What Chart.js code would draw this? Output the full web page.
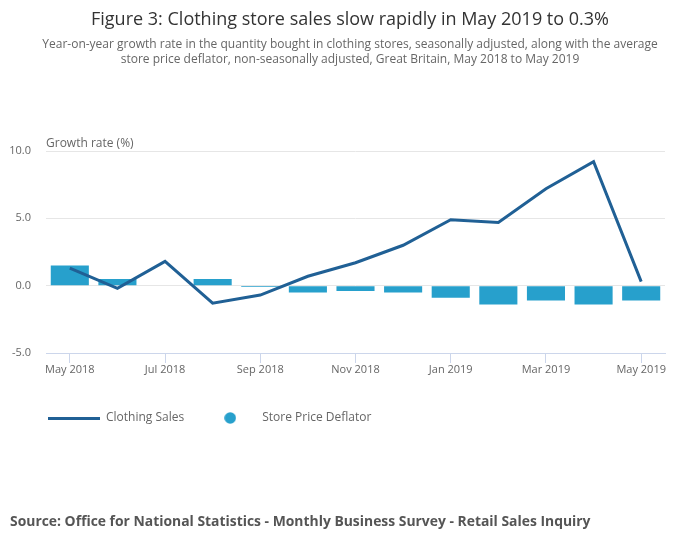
<!DOCTYPE html>
<html>
<head>
<meta charset="utf-8">
<script src="https://cdn.jsdelivr.net/npm/chart.js@4.4.1/dist/chart.umd.min.js"></script>
<style>
  body { margin: 0; background: #fff; font-family: 'Open Sans', sans-serif; }
  #wrap { position: relative; width: 700px; height: 549px; overflow: hidden; }
  #chart { position: absolute; left: 0; top: 0; }
  .title { position: absolute; left: 0; width: 700px; text-align: center; top: 6px; font-size: 18px; color: #333; }
  .subtitle { position: absolute; left: 40px; width: 620px; text-align: center; top: 36px; font-size: 12px; line-height: 15px; color: #666; }
  .source { position: absolute; left: 10px; top: 511px; font-size: 13.9px; font-weight: bold; color: #555; }
</style>
</head>
<body>
<div id="wrap">
  <canvas id="chart" width="700" height="549"></canvas>
  <div class="title">Figure 3: Clothing store sales slow rapidly in May 2019 to 0.3%</div>
  <div class="subtitle">Year-on-year growth rate in the quantity bought in clothing stores, seasonally adjusted, along with the average store price deflator, non-seasonally adjusted, Great Britain, May 2018 to May 2019</div>
  <div class="source">Source: Office for National Statistics - Monthly Business Survey - Retail Sales Inquiry</div>
</div>
<script>
const months = ['May 2018', 'Jun 2018', 'Jul 2018', 'Aug 2018', 'Sep 2018', 'Oct 2018', 'Nov 2018',
                'Dec 2018', 'Jan 2019', 'Feb 2019', 'Mar 2019', 'Apr 2019', 'May 2019'];
const clothingSales = [1.3, -0.2, 1.8, -1.3, -0.7, 0.7, 1.7, 3.0, 4.9, 4.7, 7.2, 9.2, 0.3];
const priceDeflator = [1.5, 0.5, 0.0, 0.5, -0.1, -0.5, -0.4, -0.5, -0.9, -1.4, -1.1, -1.4, -1.1];
const yTicks = [-5, 0, 5, 10];

Chart.defaults.font.family = "'Open Sans', sans-serif";
Chart.defaults.font.size = 12;
Chart.defaults.color = '#666';

// legend swatches: a short thick stroke for the line, a dot for the bars
function swatch(w, h, draw) {
    const c = document.createElement('canvas');
    c.width = w; c.height = h;
    draw(c.getContext('2d'));
    return c;
}
const lineSwatch = swatch(52, 3, g => { g.fillStyle = '#206095'; g.fillRect(0, 0, 52, 3); });
const dotSwatch = swatch(12, 12, g => {
    g.fillStyle = '#27a0cc';
    g.beginPath(); g.arc(6, 6, 5.8, 0, Math.PI * 2); g.fill();
});

const axisLabel = {
    id: 'axisLabel',
    afterLayout(chart) {
        // indent the legend to line up with the plot like the original
        chart.legend.left = 28;
    },
    afterDraw(chart) {
        const { ctx, chartArea } = chart;
        ctx.save();
        ctx.font = "12px 'Open Sans', sans-serif";
        ctx.fillStyle = '#666';
        ctx.textAlign = 'left';
        ctx.textBaseline = 'bottom';
        ctx.fillText('Growth rate (%)', chartArea.left, chartArea.top - 1);
        ctx.restore();
    }
};

const ctx = document.getElementById('chart').getContext('2d');
const chart = new Chart(ctx, {
    type: 'bar',
    data: {
        labels: months,
        datasets: [
            { type: 'line', label: 'Clothing Sales', data: clothingSales, borderColor: '#206095', borderWidth: 3,
              pointRadius: 0, pointStyle: lineSwatch, tension: 0, order: 0 },
            { type: 'bar', label: 'Store Price Deflator', data: priceDeflator, backgroundColor: '#27a0cc',
              categoryPercentage: 1.0, barPercentage: 0.8, pointStyle: dotSwatch, order: 1 }
        ]
    },
    options: {
        responsive: false, animation: false,
        layout: { padding: { top: 151, left: 0, right: 35, bottom: 115 } },
        plugins: {
            legend: {
                position: 'bottom', align: 'start',
                labels: { usePointStyle: true, pointStyleWidth: 52, boxHeight: 8, padding: 20, color: '#666', font: { size: 12 } }
            },
            tooltip: { enabled: false }
        },
        scales: {
            x: {
                offset: true,
                grid: { offset: false, drawOnChartArea: false, tickLength: 10,
                        tickColor: c => c.index % 2 === 0 ? '#ccd6eb' : 'rgba(0,0,0,0)' },
                border: { color: '#ccd6eb' },
                ticks: { autoSkip: false, maxRotation: 0, padding: 0, font: { size: 11 },
                         callback: (v, i) => i % 2 === 0 ? months[i] : '' },
                afterFit: s => { s.height = 39; }
            },
            y: {
                min: -5, max: 10,
                afterBuildTicks: s => { s.ticks = yTicks.map(v => ({ value: v })); },
                grid: { drawTicks: false, color: c => c.tick && c.tick.value === -5 ? 'rgba(0,0,0,0)' : '#e6e6e6' },
                border: { display: false },
                ticks: { padding: 15, font: { size: 11 }, callback: v => v.toFixed(1) },
                afterFit: s => { s.width = 46; }
            }
        }
    },
    plugins: [axisLabel]
});
</script>
</body>
</html>
